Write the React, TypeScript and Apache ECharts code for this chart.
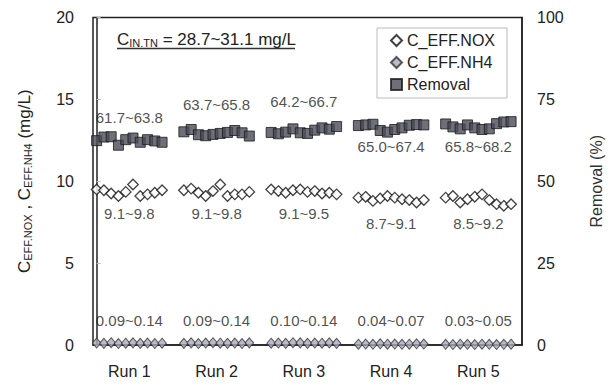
import React, { useEffect, useRef } from "react";
import * as echarts from "echarts";

// ---------- data ----------
const runs = ["Run 1", "Run 2", "Run 3", "Run 4", "Run 5"];

const noxRun1 = [9.5, 9.45, 9.25, 9.1, 9.35, 9.8, 9.1, 9.2, 9.3, 9.45];
const noxRun2 = [9.45, 9.55, 9.3, 9.1, 9.4, 9.8, 9.1, 9.2, 9.2, 9.35];
const noxRun3 = [9.5, 9.4, 9.3, 9.45, 9.5, 9.35, 9.4, 9.25, 9.3, 9.2];
const noxRun4 = [9.0, 9.05, 8.8, 8.95, 9.1, 9.0, 8.9, 8.85, 8.7, 8.85];
const noxRun5 = [9.0, 9.1, 8.7, 8.9, 9.05, 9.2, 8.85, 8.6, 8.5, 8.6];

const nh4Run1 = [0.12, 0.1, 0.14, 0.09, 0.11, 0.13, 0.1, 0.12, 0.09, 0.11];
const nh4Run2 = [0.1, 0.13, 0.09, 0.12, 0.14, 0.11, 0.1, 0.12, 0.09, 0.13];
const nh4Run3 = [0.11, 0.12, 0.1, 0.14, 0.13, 0.1, 0.12, 0.11, 0.13, 0.1];
const nh4Run4 = [0.05, 0.06, 0.04, 0.07, 0.05, 0.06, 0.04, 0.05, 0.07, 0.06];
const nh4Run5 = [0.04, 0.03, 0.05, 0.04, 0.03, 0.05, 0.04, 0.03, 0.04, 0.05];

const removalRun1 = [62.4, 63.5, 63.6, 61.0, 62.7, 63.2, 61.9, 62.7, 62.3, 61.9];
const removalRun2 = [65.1, 65.8, 64.2, 63.9, 64.3, 64.6, 64.9, 65.5, 64.8, 63.8];
const removalRun3 = [64.9, 64.5, 65.0, 66.0, 64.8, 64.6, 65.6, 66.3, 65.9, 66.7];
const removalRun4 = [67.0, 67.2, 67.4, 65.5, 65.0, 65.8, 66.3, 67.1, 67.3, 67.2];
const removalRun5 = [67.5, 66.6, 66.0, 67.2, 66.3, 65.8, 66.0, 67.6, 68.1, 68.2];

const noxRanges = ["9.1~9.8", "9.1~9.8", "9.1~9.5", "8.7~9.1", "8.5~9.2"];
const nh4Ranges = ["0.09~0.14", "0.09~0.14", "0.10~0.14", "0.04~0.07", "0.03~0.05"];
const removalRanges = ["61.7~63.8", "63.7~65.8", "64.2~66.7", "65.0~67.4", "65.8~68.2"];

const leftTicks = [0, 5, 10, 15, 20];
const rightTicks = [0, 25, 50, 75, 100];

// ---------- layout ----------
const SLOT = 12; // index width reserved per run
const GROUP_CENTER = 4.5;
const noxLabelAt = [8.06, 8.06, 8.06, 7.45, 7.45];
const nh4LabelAt = [1.47, 1.47, 1.47, 1.47, 1.47];
const removalLabelAt = [69.6, 73.3, 74.5, 60.5, 60.5];

const FONT = "'Liberation Sans', Arial, sans-serif";
const TEXT = "#222";

const toPoints = (groups: number[][]) =>
  groups.flatMap((vals, k) => vals.map((v, j) => [k * SLOT + j, v]));

const labelSeries = (ranges: string[], at: number[], yAxisIndex: number) => ({
  type: "scatter",
  name: "_labels" + yAxisIndex + ranges[0],
  yAxisIndex,
  symbolSize: 0,
  silent: true,
  z: 5,
  data: ranges.map((t, k) => ({
    value: [k * SLOT + GROUP_CENTER, at[k]],
    label: { formatter: t },
  })),
  label: {
    show: true,
    position: "inside",
    fontSize: 15,
    color: TEXT,
    fontFamily: FONT,
  },
});

export default function App() {
  const ref = useRef<HTMLDivElement>(null);

  useEffect(() => {
    if (!ref.current) return;
    const chart = echarts.init(ref.current, undefined, { renderer: "svg" });

    const nox = toPoints([noxRun1, noxRun2, noxRun3, noxRun4, noxRun5]);
    const nh4 = toPoints([nh4Run1, nh4Run2, nh4Run3, nh4Run4, nh4Run5]);
    const removal = toPoints([removalRun1, removalRun2, removalRun3, removalRun4, removalRun5]);

    chart.setOption({
      animation: false,
      backgroundColor: "#fff",
      textStyle: { fontFamily: FONT },
      grid: {
        left: 93,
        right: 94,
        top: 17.5,
        bottom: 42,
        show: true,
        borderColor: "#222",
        borderWidth: 1.5,
      },
      legend: {
        orient: "vertical",
        left: 377,
        top: 28,
        width: 135,
        padding: [4, 12, 5, 13],
        itemGap: 5,
        itemWidth: 11,
        itemHeight: 11,
        backgroundColor: "#fff",
        borderColor: "#bbb",
        borderWidth: 1,
        textStyle: { fontSize: 16, color: TEXT, fontFamily: FONT, lineHeight: 17 },
        data: [
          { name: "C_EFF.NOX", icon: "diamond" },
          { name: "C_EFF.NH4", icon: "diamond" },
          { name: "Removal", icon: "rect" },
        ],
      },
      xAxis: {
        type: "value",
        min: -0.5,
        max: runs.length * SLOT - 1.5,
        axisLine: { show: true, onZero: false, lineStyle: { color: "#222", width: 1.5 } },
        axisTick: { show: false },
        splitLine: { show: false },
        axisLabel: {
          customValues: runs.map((_, k) => k * SLOT + GROUP_CENTER),
          formatter: (v: number) => runs[Math.round((v - GROUP_CENTER) / SLOT)] ?? "",
          fontSize: 16,
          color: TEXT,
          margin: 18,
          fontFamily: FONT,
        },
      },
      yAxis: [
        {
          type: "value",
          min: leftTicks[0],
          max: leftTicks[leftTicks.length - 1],
          interval: leftTicks[1] - leftTicks[0],
          axisLine: { show: true, lineStyle: { color: "#222", width: 1.5 } },
          axisTick: { show: true, inside: true, length: 4, lineStyle: { color: "#bbb" } },
          splitLine: { show: false },
          axisLabel: { fontSize: 16, color: TEXT, margin: 19, fontFamily: FONT },
          name: "{c|C}{s|EFF.NOX}{c| , C}{s|EFF.NH4}{c| (mg/L)}",
          nameLocation: "middle",
          nameRotate: 90,
          nameGap: 60,
          nameTextStyle: {
            fontFamily: FONT,
            color: TEXT,
            rich: {
              c: { fontSize: 17, lineHeight: 20, color: TEXT, fontFamily: FONT, verticalAlign: "bottom" },
              s: { fontSize: 11, color: TEXT, fontFamily: FONT, verticalAlign: "bottom", lineHeight: 16 },
            },
          },
        },
        {
          type: "value",
          position: "right",
          min: rightTicks[0],
          max: rightTicks[rightTicks.length - 1],
          interval: rightTicks[1] - rightTicks[0],
          axisLine: { show: true, lineStyle: { color: "#222", width: 1.5 } },
          axisTick: { show: false },
          splitLine: { show: false },
          axisLabel: { fontSize: 16, color: TEXT, margin: 15, fontFamily: FONT },
          name: "Removal (%)",
          nameLocation: "middle",
          nameRotate: 90,
          nameGap: 66,
          nameTextStyle: { fontSize: 16, color: "#333", fontFamily: FONT },
        },
      ],
      graphic: [
        {
          type: "text",
          x: 117,
          y: 38,
          style: {
            text: "{c|C}{s|IN.TN}{c| = 28.7~31.1 mg/L}",
            verticalAlign: "middle",
            rich: {
              c: { fontSize: 17, lineHeight: 20, fill: TEXT, fontFamily: FONT, verticalAlign: "bottom" },
              s: { fontSize: 11, lineHeight: 14, fill: TEXT, fontFamily: FONT, verticalAlign: "bottom" },
            },
          },
        },
        {
          type: "line",
          shape: { x1: 117, y1: 48.5, x2: 295, y2: 48.5 },
          style: { stroke: "#333", lineWidth: 1.5 },
        },
      ],
      series: [
        {
          name: "C_EFF.NOX",
          type: "scatter",
          yAxisIndex: 0,
          symbol: "diamond",
          symbolSize: 10.5,
          itemStyle: { color: "#fff", borderColor: "#111", borderWidth: 1.3 },
          data: nox,
          z: 3,
        },
        {
          name: "C_EFF.NH4",
          type: "scatter",
          yAxisIndex: 0,
          symbol: "diamond",
          symbolSize: [8.5, 10],
          itemStyle: { color: "#a9a9bb", borderColor: "#333", borderWidth: 1 },
          data: nh4,
          z: 3,
        },
        {
          name: "Removal",
          type: "scatter",
          yAxisIndex: 1,
          symbol: "rect",
          symbolSize: 10,
          itemStyle: { color: "#4b4b57", borderColor: "#1a1a1a", borderWidth: 1 },
          data: removal,
          z: 3,
        },
        labelSeries(removalRanges, removalLabelAt, 1),
        labelSeries(noxRanges, noxLabelAt, 0),
        labelSeries(nh4Ranges, nh4LabelAt, 0),
      ],
    });

    return () => chart.dispose();
  }, []);

  return (
    <div
      ref={ref}
      style={{ position: "fixed", left: 0, top: 0, width: 616, height: 387 }}
    />
  );
}
